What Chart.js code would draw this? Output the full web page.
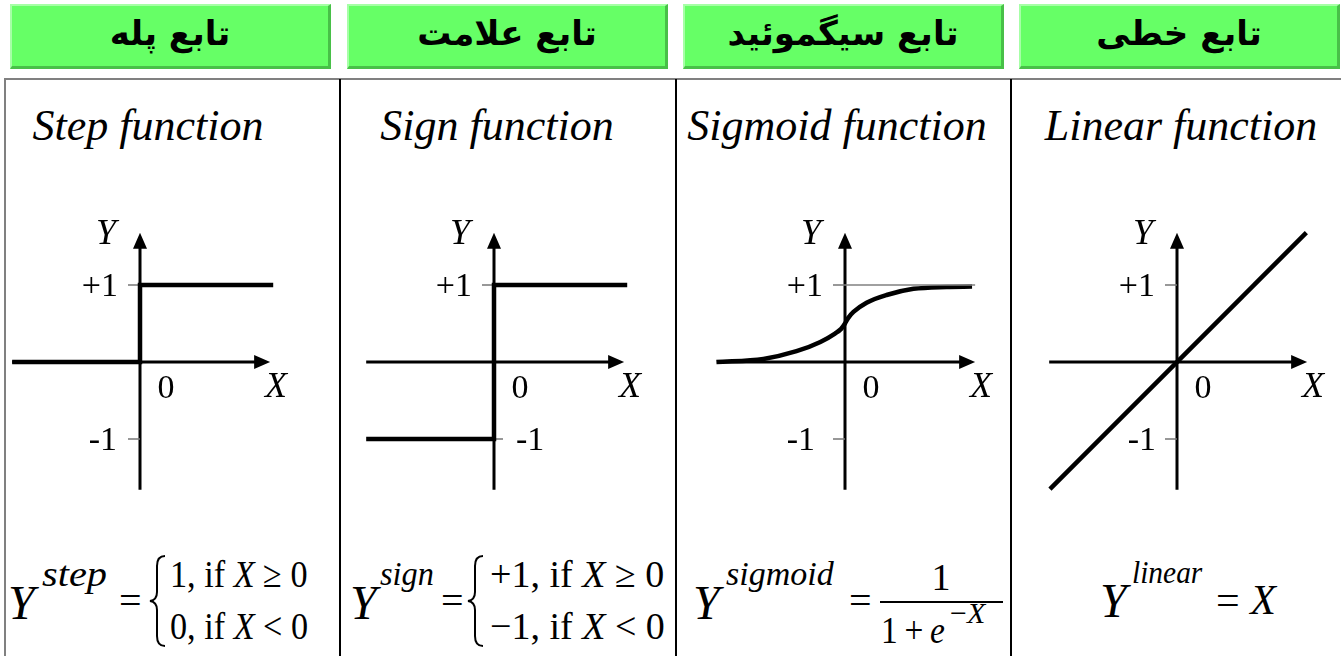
<!DOCTYPE html>
<html>
<head>
<meta charset="utf-8">
<script src="https://cdn.jsdelivr.net/npm/chart.js@4.4.1/dist/chart.umd.min.js"></script>
<style>
  html, body { margin: 0; padding: 0; background: #fff; width: 1344px; height: 656px; overflow: hidden; }
  body { position: relative; font-family: "Liberation Serif", "Times New Roman", Tinos, Times, serif; color: #000; }
  .hdr {
    position: absolute; top: 4px; height: 65px; width: 321px; box-sizing: border-box;
    background: #66ff66;
    border-top: 2px solid #a6ffa6; border-left: 2px solid #a6ffa6;
    border-bottom: 3px solid #48c048; border-right: 3px solid #48c048;
    display: flex; align-items: center; justify-content: center;
    font-family: "DejaVu Sans", sans-serif; font-weight: bold; font-size: 34px; direction: rtl;
    padding-bottom: 6px;
  }
  .rule { position: absolute; }
  .title { position: absolute; top: 104px; width: 400px; font-style: italic; font-size: 44px; line-height: 1; text-align: center; }
  canvas { position: absolute; }
  .f { position: absolute; white-space: nowrap; line-height: 1; transform-origin: left center; }
  .bar { position: absolute; background: #000; height: 2px; }
  svg { position: absolute; }
</style>
</head>
<body>

<div class="hdr" style="left:10px">تابع پله</div>
<div class="hdr" style="left:347px">تابع علامت</div>
<div class="hdr" style="left:683px">تابع سیگموئید</div>
<div class="hdr" style="left:1019px">تابع خطی</div>

<div class="rule" style="left:4px;top:78px;width:1337px;height:2px;background:#808080"></div>
<div class="rule" style="left:4px;top:78px;width:2px;height:578px;background:#808080"></div>
<div class="rule" style="left:339px;top:79px;width:2px;height:577px;background:#000"></div>
<div class="rule" style="left:675px;top:79px;width:2px;height:577px;background:#000"></div>
<div class="rule" style="left:1010px;top:79px;width:2px;height:577px;background:#000"></div>

<div class="title" style="left:-52px">Step function</div>
<div class="title" style="left:297px">Sign function</div>
<div class="title" style="left:637px">Sigmoid function</div>
<div class="title" style="left:981px">Linear function</div>

<canvas id="c1" width="308" height="340"></canvas>
<canvas id="c2" width="308" height="340"></canvas>
<canvas id="c3" width="308" height="340"></canvas>
<canvas id="c4" width="308" height="340"></canvas>

<div id="formulas"></div>

<script>
// function curves (x, y in axis units)
const stepX = [-1.66, 0, 0, 1.73];
const stepY = [0, 0, 1, 1];
const signX = [-1.66, 0, 0, 1.73];
const signY = [-1, -1, 1, 1];
const sigmoidX = [-1.67, -1.06, -0.63, -0.32, -0.13, -0.05, 0, 0.04, 0.11, 0.28, 0.54, 0.89, 1.32, 1.65];
const sigmoidY = [0, 0.04, 0.14, 0.26, 0.37, 0.43, 0.5, 0.57, 0.65, 0.77, 0.87, 0.95, 0.975, 0.98];
const sigmoidGuideX = [0, 1.69];
const sigmoidGuideY = [1, 1];
const linearX = [-1.65, 1.68];
const linearY = [-1.65, 1.68];

// axis text
const yTickValues = [1, -1];
const yTickLabels = ["+1", "-1"];
const originLabel = "0";
const axisNames = ["X", "Y"];

const UNIT = 77;        // px per unit
const AXIS_ROW = 362;   // y pixel of the x axis
const origins = [140, 494, 845, 1177];
const AXIS_MIN = -1.66, X_TIP = 1.69, Y_TIP = 1.68;
const SERIF = '"Liberation Serif", "Times New Roman", Tinos, serif';

const pts = (xs, ys) => xs.map((v, i) => ({ x: v, y: ys[i] }));

// axes, arrows, ticks and labels drawn through the chart scales
const axesPlugin = {
  id: "axes",
  beforeDatasetsDraw(chart, args, opts) {
    const { ctx, scales: { x, y } } = chart;
    const ox = x.getPixelForValue(0), oy = y.getPixelForValue(0);
    const xs = x.getPixelForValue(AXIS_MIN), xt = x.getPixelForValue(X_TIP);
    const ys = y.getPixelForValue(AXIS_MIN), yt = y.getPixelForValue(Y_TIP);
    ctx.save();
    ctx.strokeStyle = "#000";
    ctx.fillStyle = "#000";
    ctx.lineWidth = 3;
    ctx.beginPath();
    ctx.moveTo(xs, oy); ctx.lineTo(xt - 12, oy);
    ctx.moveTo(ox, ys); ctx.lineTo(ox, yt + 12);
    ctx.stroke();
    ctx.beginPath();
    ctx.moveTo(xt, oy); ctx.lineTo(xt - 16, oy - 7); ctx.lineTo(xt - 16, oy + 7); ctx.closePath();
    ctx.moveTo(ox, yt); ctx.lineTo(ox - 7, yt + 16); ctx.lineTo(ox + 7, yt + 16); ctx.closePath();
    ctx.fill();
    // ticks
    ctx.strokeStyle = "#777";
    ctx.lineWidth = 1.5;
    ctx.beginPath();
    yTickValues.forEach((v) => {
      const py = y.getPixelForValue(v);
      const right = v < 0 && opts.minusRight;
      ctx.moveTo(right ? ox : ox - 12, py);
      ctx.lineTo(right ? ox + 9 : ox, py);
    });
    ctx.stroke();
    ctx.restore();
  },
  afterDraw(chart, args, opts) {
    const { ctx, scales: { x, y } } = chart;
    const ox = x.getPixelForValue(0), oy = y.getPixelForValue(0);
    const yt = y.getPixelForValue(Y_TIP);
    ctx.save();
    ctx.fillStyle = "#000";
    ctx.textBaseline = "middle";
    ctx.font = "34px " + SERIF;
    yTickValues.forEach((v, i) => {
      const py = y.getPixelForValue(v) + 2;
      if (v < 0 && opts.minusRight) {
        ctx.textAlign = "left";
        ctx.fillText(yTickLabels[i], ox + 22, py);
      } else {
        ctx.textAlign = "right";
        ctx.fillText(yTickLabels[i], ox - (v < 0 ? opts.minusGap : 22), py);
      }
    });
    ctx.textAlign = "center";
    ctx.fillText(originLabel, ox + 26, oy + 27);
    ctx.font = "italic 36px " + SERIF;
    ctx.fillText(axisNames[0], ox + 136, oy + 26);
    ctx.fillText(axisNames[1], ox - 34, yt + 2);
    ctx.restore();
  }
};

function makeChart(id, col, datasets, axesOpts) {
  const el = document.getElementById(id);
  el.style.left = (origins[col] - 2 * UNIT) + "px";
  el.style.top = (AXIS_ROW - 170) + "px";
  return new Chart(el, {
    type: "line",
    data: { datasets },
    options: {
      responsive: false,
      animation: false,
      layout: { padding: 0 },
      elements: { point: { radius: 0 }, line: { borderCapStyle: "butt", borderJoinStyle: "miter" } },
      plugins: { legend: { display: false }, tooltip: { enabled: false }, axes: axesOpts },
      scales: {
        x: { type: "linear", min: -2, max: 2, display: false },
        y: { type: "linear", min: -170 / UNIT, max: 170 / UNIT, display: false }
      }
    },
    plugins: [axesPlugin]
  });
}

const fn = (data, extra) => Object.assign({ data, borderColor: "#000", borderWidth: 4.5, tension: 0, clip: false }, extra || {});

makeChart("c1", 0, [fn(pts(stepX, stepY))], { minusRight: false, minusGap: 23 });
makeChart("c2", 1, [fn(pts(signX, signY))], { minusRight: true, minusGap: 23 });
makeChart("c3", 2, [
  fn(pts(sigmoidGuideX, sigmoidGuideY), { borderColor: "#808080", borderWidth: 1.5 }),
  fn(pts(sigmoidX, sigmoidY), { cubicInterpolationMode: "monotone" })
], { minusRight: false, minusGap: 30 });
makeChart("c4", 3, [fn(pts(linearX, linearY))], { minusRight: false, minusGap: 21 });

// formula row
const box = document.getElementById("formulas");
function put(html, left, baseline, size, italic, sx, center) {
  const d = document.createElement("div");
  d.className = "f";
  d.innerHTML = html;
  d.style.fontSize = size + "px";
  d.style.top = (baseline - 0.8375 * size) + "px";
  if (italic) d.style.fontStyle = "italic";
  if (sx) d.style.transform = "scaleX(" + sx + ")";
  if (center) { d.style.left = (left - 100) + "px"; d.style.width = "200px"; d.style.textAlign = "center"; d.style.transformOrigin = "center"; }
  else d.style.left = left + "px";
  box.appendChild(d);
}
function brace(left) {
  box.insertAdjacentHTML("beforeend",
    '<svg style="left:' + left + 'px;top:555px" width="20" height="92" viewBox="0 0 20 92">' +
    '<path d="M17,1 Q9,1 9,11 L9,37 Q9,45 2,46 Q9,47 9,55 L9,81 Q9,91 17,91" fill="none" stroke="#000" stroke-width="2"/></svg>');
}

put("Y", 8, 619, 48, true);
put("step", 42, 586, 36, true, 1.12);
put("=", 119, 614, 40);
brace(148);
put("1, if <i>X</i> ≥ 0", 170, 587, 38, false, 0.9);
put("0, if <i>X</i> &lt; 0", 170, 639, 38, false, 0.9);

put("Y", 350, 619, 48, true);
put("sign", 380, 585, 34, true, 0.95);
put("=", 441, 614, 40);
brace(466);
put("+1, if <i>X</i> ≥ 0", 490, 587, 38);
put("−1, if <i>X</i> &lt; 0", 490, 639, 38);

put("Y", 693, 619, 48, true);
put("sigmoid", 726, 585, 34, true);
put("=", 849, 614, 40);
put("1", 941, 590, 38, false, 0, true);
box.insertAdjacentHTML("beforeend", '<div class="bar" style="left:880px;top:601px;width:123px"></div>');
put("1&thinsp;+&thinsp;<i>e</i>", 881, 643, 38, false, 0.88);
put("−<i>X</i>", 950, 623, 30);

put("Y", 1100, 617, 48, true);
put("linear", 1132, 583, 32, true, 0.92);
put("= <i>X</i>", 1216, 614, 42);
</script>
</body>
</html>
